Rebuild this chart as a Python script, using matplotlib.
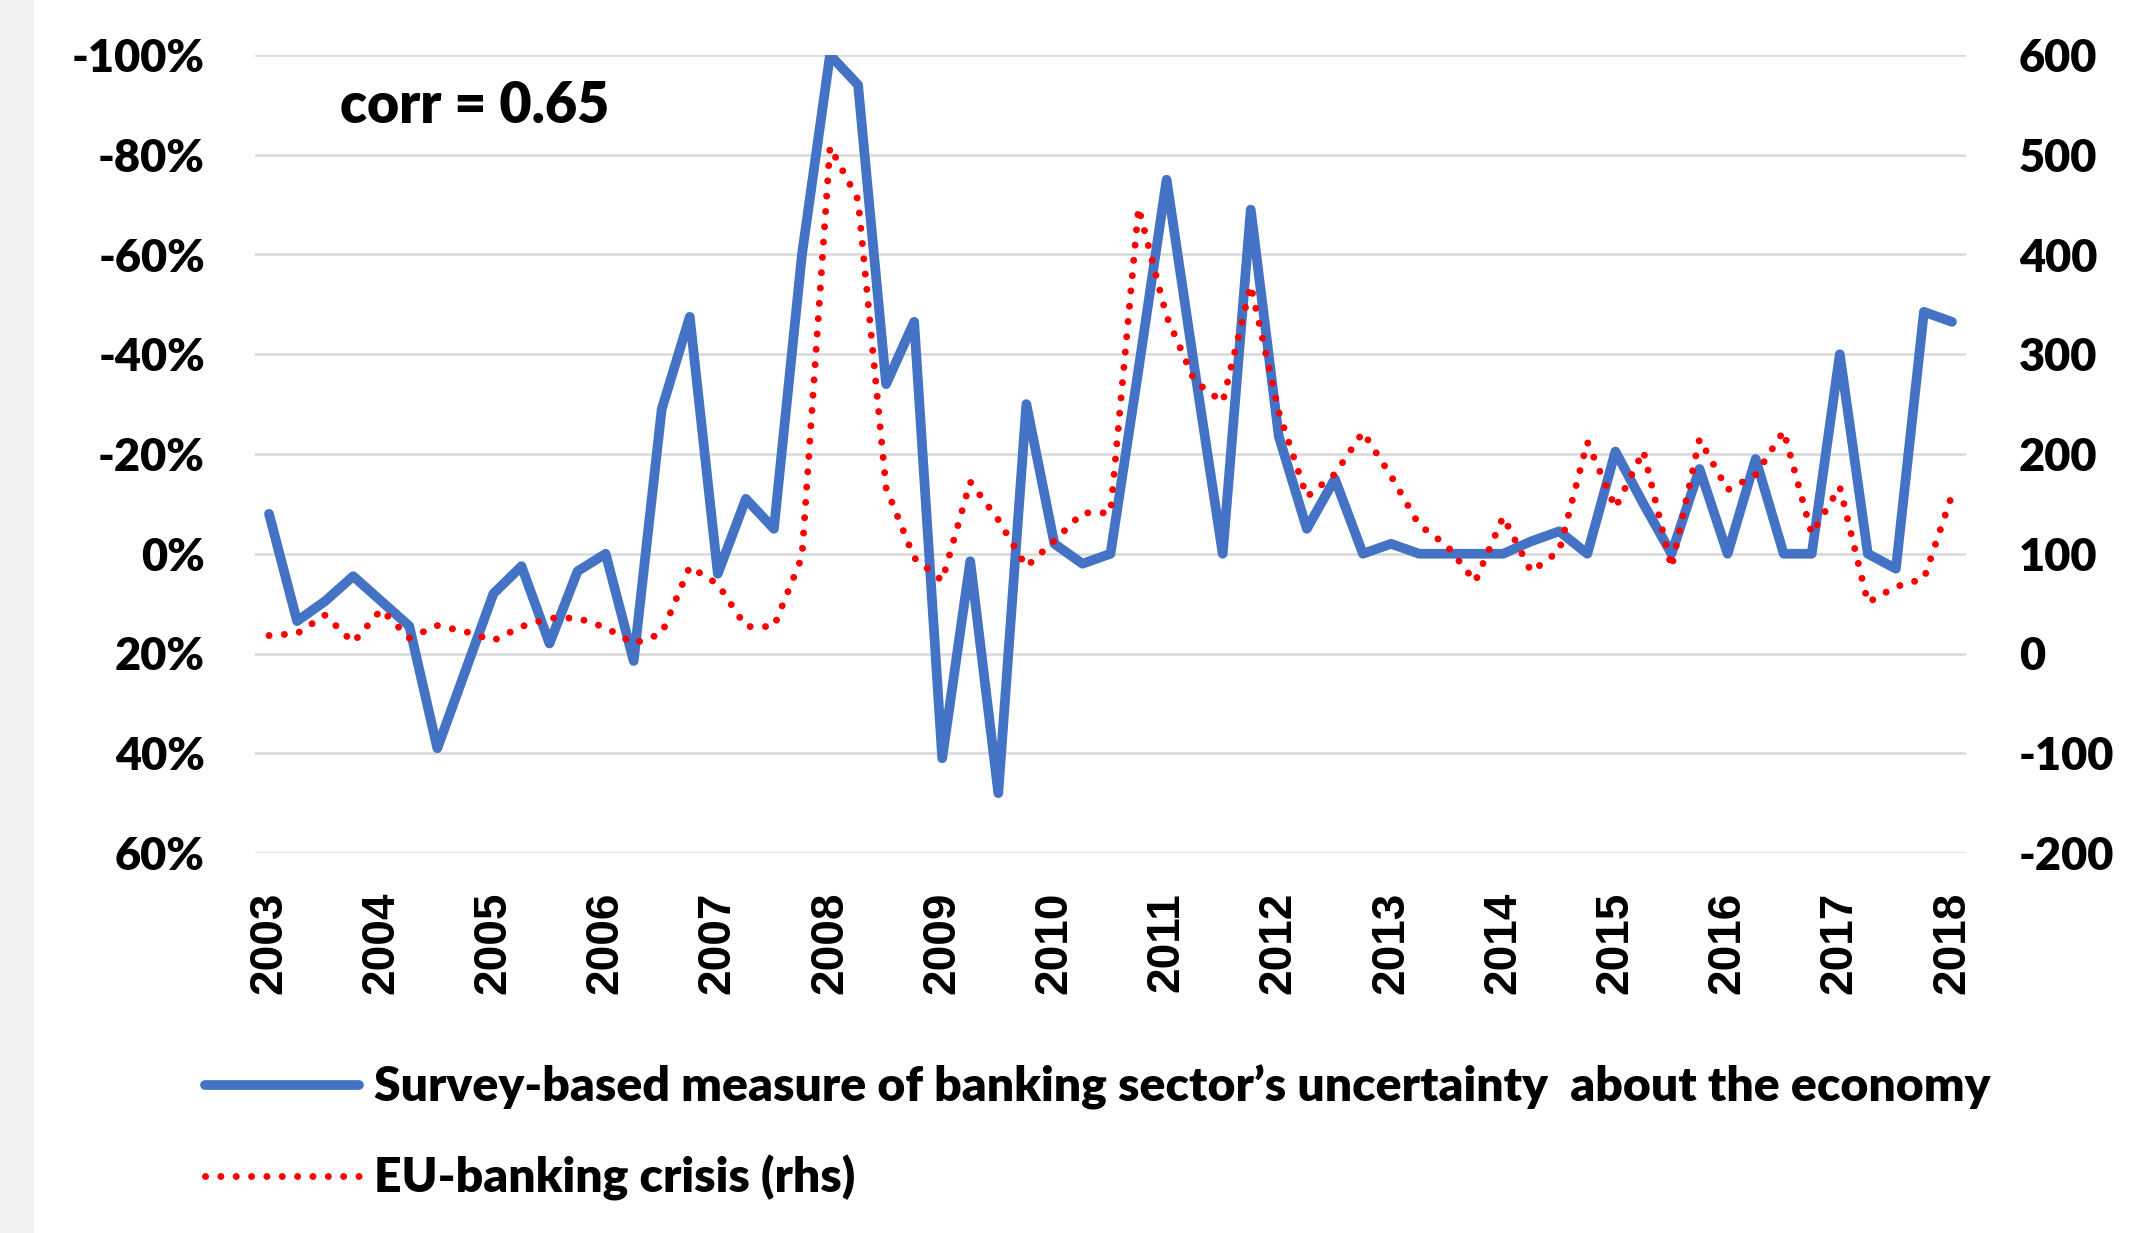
import matplotlib
matplotlib.use('agg')
import matplotlib.pyplot as plt
from matplotlib.patches import Rectangle
import numpy as np

# quarterly observations, 2003Q1 .. 2018Q1
years = list(range(2003, 2019))
quarters = np.arange(61)

# survey-based uncertainty (left axis, %), axis is inverted
survey = [-8, 13.5, 9.5, 4.5, 9.5, 14.5, 39, 23.5, 8, 2.5, 18, 3.5, 0, 21.5, -29, -47.5,
          4, -11, -5, -60, -100, -94, -34, -46.5, 41, 1.5, 48, -30, -2, 2, 0, -37,
          -75, -37, 0, -69, -23.5, -5, -15, 0, -2, 0, 0, 0, 0, -2.5, -4.5, 0,
          -20.5, -10, 0, -17, 0, -19, 0, 0, -40, 0, 3, -48.5, -46.5]

# EU-banking crisis index (right axis)
crisis = [18, 20, 38.5, 11, 44, 15.5, 28, 22, 13, 27, 35.5, 35.5, 26, 10, 20, 87,
          69.5, 27, 27, 97, 508, 455, 166, 96, 73, 172, 134, 87, 113, 141, 141, 447,
          338, 273, 252, 369, 242, 157, 180, 222, 178, 129, 108, 72, 137, 82, 103, 212,
          146, 203, 86, 215, 164, 179, 223, 120, 167, 51, 67, 75, 159]

left_ticks = list(range(-100, 61, 20))
right_ticks = list(range(-200, 601, 100))

survey_label = 'Survey-based measure of banking sector\u2019s uncertainty  about the economy'
crisis_label = 'EU-banking crisis (rhs)'

font = 'Lato'
fs = 32.5
W, H = 2148, 1233

fig = plt.figure(figsize=(W / 100, H / 100), dpi=100)
fig.patches.append(Rectangle((0, 0), 34 / W, 1, transform=fig.transFigure,
                             facecolor='#f2f2f2', edgecolor='none', zorder=0))

ax = fig.add_axes([255 / W, 1 - 853 / H, 1711 / W, 798 / H])
ax2 = ax.twinx()

ax.set_xlim(-0.5, 60.5)
ax.set_ylim(60, -100)
ax.set_yticks(left_ticks)
ax.set_yticklabels(['{}%'.format(t) for t in left_ticks], fontfamily=font,
                   fontweight='heavy', fontsize=fs)
ax.set_xticks(range(0, 61, 4))
ax.set_xticklabels([str(y) for y in years], rotation=90, fontfamily='Liberation Sans',
                   fontweight='bold', fontsize=33)
ax.tick_params(axis='y', length=0, pad=36)
ax.tick_params(axis='x', length=0, pad=28)
ax.yaxis.grid(True, color='#d9d9d9', linewidth=1.8)
ax.set_axisbelow(True)

ax2.set_ylim(-200, 600)
ax2.set_yticks(right_ticks)
ax2.set_yticklabels([str(t) for t in right_ticks], fontfamily=font,
                    fontweight='heavy', fontsize=fs)
ax2.tick_params(axis='y', length=0, pad=38)

for a in (ax, ax2):
    for s in a.spines.values():
        s.set_visible(False)

l1, = ax.plot(quarters, survey, color='#4472C4', linewidth=7,
              solid_joinstyle='round', solid_capstyle='round', zorder=3)
l2, = ax2.plot(quarters, crisis, color='#ff0000', linewidth=5,
               linestyle=(0, (0.01, 2.2)), dash_capstyle='round', zorder=4)

ax.text((340 - 255) / 1711, (853 - 123) / 798, 'corr = 0.65',
        transform=ax.transAxes, fontfamily=font, fontweight='heavy', fontsize=40,
        ha='left', va='baseline')

fig.legend([l1, l2], [survey_label, crisis_label], loc='center left',
           bbox_to_anchor=(205 / W, 1 - 1133 / H), frameon=False,
           prop={'family': font, 'weight': 'heavy', 'size': 34.7},
           handlelength=3.2, handletextpad=0.3, labelspacing=0.92,
           borderpad=0, borderaxespad=0)

fig.savefig('out.png', dpi=100)
